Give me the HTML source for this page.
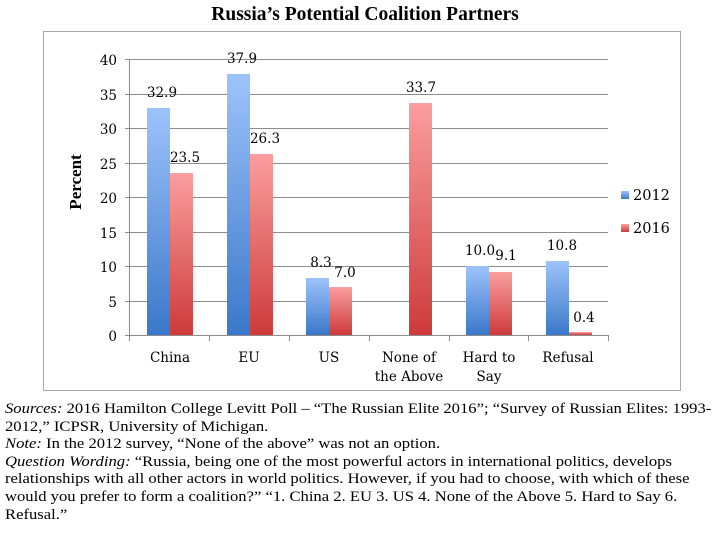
<!DOCTYPE html>
<html><head><meta charset="utf-8"><style>
body{margin:0;background:#fff;width:720px;height:552px;overflow:hidden;position:relative;font-family:"Liberation Serif",serif}
.title{position:absolute;top:4px;left:5px;width:720px;text-align:center;font-weight:bold;font-size:19.5px}
.notes{position:absolute;left:5px;top:401px;width:640px;font-size:14.5px;line-height:17.6px;color:#000;white-space:nowrap;transform:scaleX(1.145);transform-origin:0 0}
</style></head><body>
<div class="title">Russia’s Potential Coalition Partners</div>
<svg width="720" height="400" style="position:absolute;left:0;top:0">
<defs>
<linearGradient id="b" x1="0" y1="0" x2="0" y2="1"><stop offset="0" stop-color="#9dc3fb"/><stop offset="1" stop-color="#3b78c9"/></linearGradient>
<linearGradient id="r" x1="0" y1="0" x2="0" y2="1"><stop offset="0" stop-color="#fb9e9e"/><stop offset="1" stop-color="#cd3a3a"/></linearGradient>
</defs>
<rect x="43.5" y="31.5" width="637" height="359" fill="#fff" stroke="#a8a8a8"/>
<g stroke="#8c8c8c" stroke-width="1">
<line x1="125" x2="608" y1="59.5" y2="59.5"/><line x1="125" x2="608" y1="94.5" y2="94.5"/><line x1="125" x2="608" y1="128.5" y2="128.5"/><line x1="125" x2="608" y1="163.5" y2="163.5"/><line x1="125" x2="608" y1="197.5" y2="197.5"/><line x1="125" x2="608" y1="232.5" y2="232.5"/><line x1="125" x2="608" y1="266.5" y2="266.5"/><line x1="125" x2="608" y1="301.5" y2="301.5"/><line x1="125" x2="608" y1="335.5" y2="335.5"/>
<line x1="129.5" x2="129.5" y1="59" y2="341"/>
<line x1="209.5" x2="209.5" y1="335" y2="341"/><line x1="289.5" x2="289.5" y1="335" y2="341"/><line x1="369.5" x2="369.5" y1="335" y2="341"/><line x1="449.5" x2="449.5" y1="335" y2="341"/><line x1="528.5" x2="528.5" y1="335" y2="341"/><line x1="608.5" x2="608.5" y1="335" y2="341"/>
</g>
<g font-family="DejaVu Serif,serif" font-size="13.5" text-anchor="end" fill="#000">
<text x="117" y="65">40</text><text x="117" y="100">35</text><text x="117" y="134">30</text><text x="117" y="169">25</text><text x="117" y="203">20</text><text x="117" y="238">15</text><text x="117" y="272">10</text><text x="117" y="307">5</text><text x="117" y="341">0</text>
</g>
<text transform="translate(81,182) rotate(-90)" text-anchor="middle" font-weight="bold" font-size="17" font-family="Liberation Serif,serif">Percent</text>
<rect x="147" y="108" width="23" height="227" fill="url(#b)"/><rect x="170" y="173" width="23" height="162" fill="url(#r)"/>
<rect x="227" y="74" width="23" height="261" fill="url(#b)"/><rect x="250" y="154" width="23" height="181" fill="url(#r)"/>
<rect x="306" y="278" width="23" height="57" fill="url(#b)"/><rect x="329" y="287" width="23" height="48" fill="url(#r)"/>
<rect x="409" y="103" width="23" height="232" fill="url(#r)"/>
<rect x="466" y="266" width="23" height="69" fill="url(#b)"/><rect x="489" y="272" width="23" height="63" fill="url(#r)"/>
<rect x="546" y="261" width="23" height="74" fill="url(#b)"/><rect x="569" y="332" width="23" height="3" fill="url(#r)"/>
<g font-family="DejaVu Serif,serif" font-size="13.5" text-anchor="middle">
<text x="162" y="97">32.9</text><text x="185" y="162">23.5</text>
<text x="242" y="63">37.9</text><text x="265" y="143">26.3</text>
<text x="321" y="267">8.3</text><text x="345" y="277">7.0</text>
<text x="421" y="92">33.7</text>
<text x="480" y="255">10.0</text><text x="506" y="260">9.1</text>
<text x="562" y="250">10.8</text><text x="584" y="322">0.4</text>
<text x="170" y="362">China</text><text x="249" y="362">EU</text><text x="329" y="362">US</text>
<text x="409" y="362">None of</text><text x="409" y="381">the Above</text>
<text x="489" y="362">Hard to</text><text x="489" y="381">Say</text>
<text x="568" y="362">Refusal</text>
</g>
<rect x="621" y="191" width="8" height="8" fill="url(#b)"/><text x="633" y="200" font-size="14.5" font-family="DejaVu Serif,serif">2012</text>
<rect x="621" y="224" width="8" height="8" fill="url(#r)"/><text x="633" y="233" font-size="14.5" font-family="DejaVu Serif,serif">2016</text>
</svg>
<div class="notes"><i>Sources:</i> 2016 Hamilton College Levitt Poll – “The Russian Elite 2016”; “Survey of Russian Elites: 1993-<br>2012,” ICPSR, University of Michigan.<br><i>Note:</i> In the 2012 survey, “None of the above” was not an option.<br><i>Question Wording:</i> “Russia, being one of the most powerful actors in international politics, develops<br>relationships with all other actors in world politics. However, if you had to choose, with which of these<br>would you prefer to form a coalition?” “1. China 2. EU 3. US 4. None of the Above 5. Hard to Say 6.<br>Refusal.”</div>
</body></html>
